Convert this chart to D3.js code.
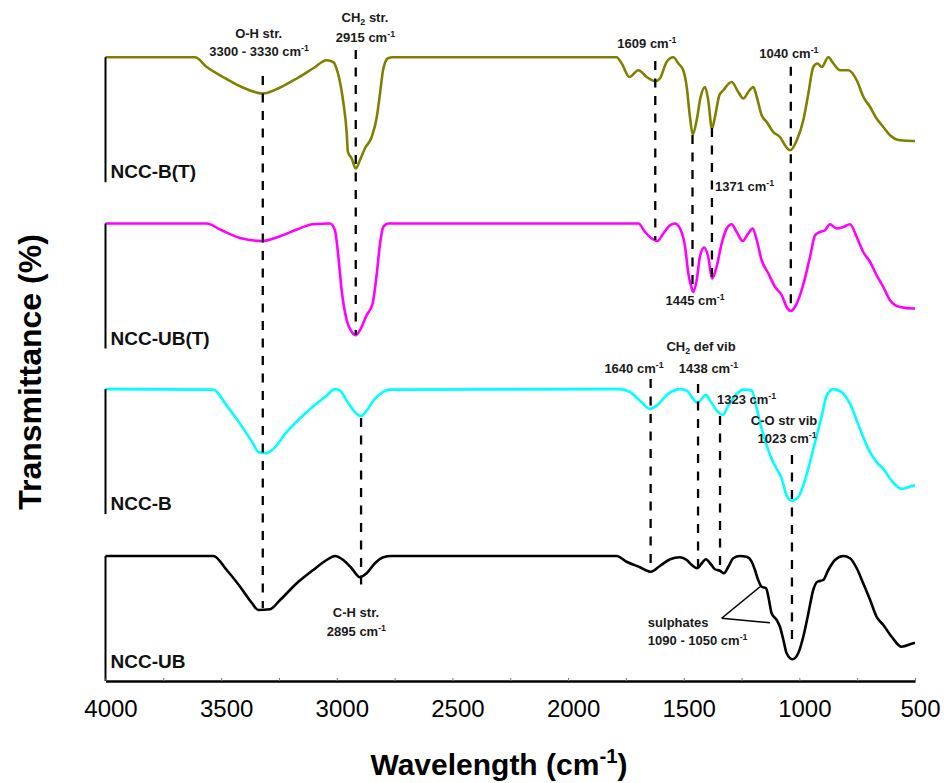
<!DOCTYPE html>
<html>
<head>
<meta charset="utf-8">
<script src="https://cdn.jsdelivr.net/npm/d3@7"></script>
<style>
  html, body { margin: 0; padding: 0; background: #fff; }
  svg { display: block; font-family: Arial, "Liberation Sans", sans-serif; }
</style>
</head>
<body>
<svg id="chart" width="944" height="783"></svg>
<script>

// samples, top to bottom
const sampleNames = ['NCC-B(T)', 'NCC-UB(T)', 'NCC-B', 'NCC-UB'];
const sampleColors = ['#808000', '#ff00ff', '#00ffff', '#000000'];
const sampleOffsets = [399, 266, 133.5, 0];

// [wavenumber (cm-1), transmittance (%)]
const spectrumNccBT = [
  [4000, 100], [3613, 100], [3562, 92.2], [3492, 84.2], [3418, 76.8], [3320, 71.0], [3245, 75.8],
  [3173, 83.0], [3103, 91.0], [3044, 97.6], [3016, 96.2], [2995, 87.2], [2973, 65.6], [2957, 39.2],
  [2952, 24.2], [2936, 19.2], [2918, 11.0], [2900, 17.6], [2878, 27.2], [2849, 36.2], [2827, 52.2],
  [2813, 71.2], [2800, 89.6], [2779, 99.2], [2757, 100], [1790, 100], [1768, 95], [1735, 84.2],
  [1696, 89.6], [1660, 84.2], [1623, 80.8], [1603, 83], [1574, 96.2], [1545, 100], [1523, 95],
  [1502, 89.6], [1487, 76.2], [1473, 52.2], [1461, 38.2], [1444, 49.6], [1427, 68.2], [1408, 76.2],
  [1394, 65.6], [1378, 43], [1365, 52.2], [1346, 69.6], [1329, 73.6], [1293, 80.2], [1264, 72.2],
  [1242, 67], [1221, 72.2], [1199, 76.2], [1184, 68.2], [1163, 53.6], [1141, 48.2], [1113, 40.2],
  [1084, 36.2], [1062, 29.6], [1040, 25.6], [1011, 33.6], [983, 49.6], [961, 71], [940, 92.2],
  [922, 95], [903, 92.2], [875, 100], [853, 95], [824, 89.6], [788, 89.6], [752, 81.6], [723, 68.2],
  [694, 60.2], [666, 51], [637, 44.2], [608, 37.6], [565, 33.6], [507, 33], [500, 33]
];

const spectrumNccUBT = [
  [4000, 100], [3562, 100], [3505, 95.2], [3418, 88.4], [3325, 86], [3245, 89.8], [3173, 95.2],
  [3102, 99.4], [3029, 100], [3008, 94.6], [2993, 73.2], [2979, 46.6], [2957, 22.6], [2935, 13.2],
  [2918, 10.6], [2900, 14.6], [2871, 26.6], [2845, 36], [2827, 60], [2813, 84], [2799, 97.2],
  [2777, 100], [1696, 100], [1667, 93.2], [1638, 88], [1614, 86], [1588, 92], [1559, 98.6],
  [1538, 100], [1516, 96], [1494, 81.2], [1480, 60], [1465, 48], [1459, 45.2], [1444, 54.6],
  [1430, 73.2], [1412, 80.8], [1394, 73.2], [1377, 56], [1358, 65.2], [1336, 84], [1314, 96],
  [1293, 99.4], [1271, 93.2], [1245, 86], [1221, 92], [1202, 96], [1184, 86.6], [1163, 70.6],
  [1134, 60], [1105, 49.2], [1076, 42.6], [1055, 33.2], [1037, 30], [1015, 34.6], [986, 49.2],
  [954, 73.2], [932, 90.6], [911, 93.2], [889, 94.6], [868, 99.4], [839, 96], [810, 97.2],
  [781, 99.4], [752, 89.2], [724, 77.2], [694, 69.2], [666, 58.6], [637, 49.2], [608, 38.6],
  [565, 33.2], [507, 32], [500, 32]
];

const spectrumNccB = [
  [4000, 100], [3534, 99.6], [3476, 86.8], [3418, 72.2], [3361, 56.2], [3339, 49.6], [3303, 48.8],
  [3274, 52.2], [3217, 65.6], [3130, 81.6], [3044, 94.8], [3008, 100], [2986, 98.8], [2957, 90.8],
  [2921, 81.6], [2895, 78.4], [2871, 82.8], [2842, 90.8], [2806, 97], [2770, 99.6], [1775, 100],
  [1732, 97.6], [1689, 90.8], [1646, 84.2], [1617, 86.8], [1567, 96.2], [1516, 100], [1487, 98.8],
  [1459, 92.2], [1441, 89], [1422, 92.2], [1404, 95.4], [1386, 90.8], [1357, 82.8], [1331, 79.4],
  [1307, 86.8], [1271, 96.2], [1242, 99.6], [1206, 98.8], [1184, 84.2], [1163, 68.2], [1141, 54.8],
  [1120, 44.2], [1098, 36.2], [1076, 28.2], [1055, 14.8], [1033, 10.8], [1005, 13.6], [983, 22.8],
  [954, 41.6], [925, 62.8], [903, 78.8], [882, 94.8], [853, 100], [817, 97.6], [781, 88.2],
  [738, 68.2], [702, 52.2], [666, 41.6], [637, 36.2], [601, 26.8], [558, 20.2], [507, 22.8], [500, 23]
];

const spectrumNccUB = [
  [4000, 100], [3534, 100], [3476, 88.8], [3418, 75.4], [3368, 62.6], [3339, 56.8], [3289, 57.4],
  [3245, 64.8], [3173, 78.2], [3102, 88.8], [3044, 96.8], [3008, 100], [2972, 96.8], [2936, 90.2],
  [2900, 83], [2871, 86.2], [2835, 94.2], [2799, 99], [2763, 100], [1790, 100], [1747, 95.4],
  [1689, 91], [1643, 87.4], [1603, 92], [1559, 97.4], [1516, 99], [1487, 96.8], [1465, 92.8],
  [1441, 90.2], [1422, 94.2], [1404, 97.4], [1386, 94.2], [1365, 89.4], [1343, 88.2], [1326, 86.2],
  [1307, 91.4], [1286, 98.2], [1257, 100], [1228, 99.4], [1206, 95.4], [1192, 88.8], [1178, 80.8],
  [1163, 75.4], [1144, 74.2], [1134, 67.4], [1120, 54.2], [1098, 48.8], [1084, 43.4], [1069, 32.8],
  [1055, 22.2], [1030, 17.4], [1005, 22.2], [983, 35.4], [961, 54.2], [940, 72.8], [922, 79.4],
  [897, 80.8], [875, 88.8], [846, 96.8], [810, 100], [781, 98.2], [752, 90.2], [724, 78.2],
  [694, 64.8], [666, 51.4], [637, 44.8], [601, 35.4], [558, 27.4], [507, 30.2], [500, 30.5]
];

const spectra = [spectrumNccBT, spectrumNccUBT, spectrumNccB, spectrumNccUB];

const xTickLabels = [4000, 3500, 3000, 2500, 2000, 1500, 1000, 500];
const xMinorTicks = [4000, 3750, 3500, 3250, 3000, 2750, 2500, 2250, 2000, 1750, 1500, 1250, 1000, 750, 500];

// band markers: wavenumber, stacked value at top and bottom of the dashed line
const bandLines = [
  [3320, 484, 58.4], [2918, 504.8, 276.8], [2895, 210.4, 70.4], [1623, 496, 352.8],
  [1462, 436.8, 312.8], [1378, 442.4, 322.4], [1037, 491.4, 300.8], [1643, 241.6, 87.2],
  [1438, 237.6, 91.2], [1343, 212, 91.2], [1032, 180.8, 28.8]
];

// band labels: text, wavenumber, stacked value of baseline, anchor
const bandLabels = [
  ['O-H str.', 3338, 514.4, 'middle'],
  ['3300 - 3330 cm{^-1}', 3336, 500, 'middle'],
  ['CH{_2} str.', 2878, 527.2, 'middle'],
  ['2915 cm{^-1}', 2876, 511.4, 'middle'],
  ['1609 cm{^-1}', 1659, 506.4, 'middle'],
  ['1040 cm{^-1}', 1045, 498.6, 'middle'],
  ['1371 cm{^-1}', 1365, 392.2, 'start'],
  ['1445 cm{^-1}', 1451, 300.8, 'middle'],
  ['CH{_2} def vib', 1425, 264.2, 'middle'],
  ['1640 cm{^-1}', 1715, 246.6, 'middle'],
  ['1438 cm{^-1}', 1393, 246.6, 'middle'],
  ['1323 cm{^-1}', 1228, 221.6, 'middle'],
  ['C-O str vib', 1066, 204.8, 'middle'],
  ['1023 cm{^-1}', 1053, 190.2, 'middle'],
  ['C-H str.', 2917, 51, 'middle'],
  ['2895 cm{^-1}', 2915, 36, 'middle'],
  ['sulphates', 1655, 43.4, 'start'],
  ['1090 - 1050 cm{^-1}', 1655, 28.8, 'start']
];

// leader lines for the sulphate shoulders
const sulphateLeaders = [
  [[1336, 50.2], [1170, 75.4]],
  [[1336, 50.2], [1127, 46.6]]
];


/**
 * Write text with {^sup} and {_sub} parts as tspans.
 * @param {d3.Selection} sel
 * @param {String} str
 * @param {Number} size
 */
function richText(sel, str, size) {

  const re = /\{([\^_])([^}]*)\}/g;
  let last = 0, shift = 0, m;

  const add = (t, s, fs) => {
    sel.append('tspan')
      .attr('dy', s - shift)
      .style('font-size', fs + 'px')
      .text(t);
    shift = s;
  };

  while ((m = re.exec(str))) {
    if (m.index > last) add(str.slice(last, m.index), 0, size);
    add(m[2], m[1] === '^' ? -0.4 * size : 0.25 * size, size * 0.68);
    last = re.lastIndex;
  }
  if (last < str.length) add(str.slice(last), 0, size);
}


/**
 * Stacked FTIR spectra.
 * @class
 */
class StackedSpectra {


  /**
   * @constructor
   * @param {SVGElement} svg
   */
  constructor(svg) {

    this._svg = d3.select(svg);
    this._x = d3.scaleLinear().domain([4000, 500]).range([105.5, 915]);
    this._y = d3.scaleLinear().domain([0, 540]).range([681, 6]);
  }


  /**
   * Draw the curves and the panel bars.
   * @returns {StackedSpectra}
   */
  renderSpectra() {

    const x = this._x, y = this._y;

    spectra.forEach((data, i) => {

      const off = sampleOffsets[i];

      const line = d3.line()
        .x(d => x(d[0]))
        .y(d => y(d[1] + off))
        .curve(d3.curveMonotoneX);

      this._svg.append('path')
        .datum(data)
        .attr('d', line)
        .attr('fill', 'none')
        .attr('stroke', sampleColors[i])
        .attr('stroke-width', 2.6)
        .attr('stroke-linejoin', 'round');

      // panel bar from 0 to 100 %
      this._svg.append('line')
        .attr('x1', x(4000)).attr('x2', x(4000))
        .attr('y1', y(off + 100)).attr('y2', y(off))
        .attr('stroke', '#000')
        .attr('stroke-width', 2);

      this._svg.append('text')
        .attr('x', x(4000) + 5)
        .attr('y', y(off + (i === 3 ? 10.4 : 3.2)))
        .style('font-size', '19px')
        .style('font-weight', 'bold')
        .attr('fill', '#111')
        .text(sampleNames[i]);
    });

    return this;
  }


  /**
   * Draw band lines and labels.
   * @returns {StackedSpectra}
   */
  renderBands() {

    const x = this._x, y = this._y;

    this._svg.append('g')
      .selectAll('line')
      .data(bandLines)
      .enter()
      .append('line')
      .attr('x1', d => x(d[0])).attr('x2', d => x(d[0]))
      .attr('y1', d => y(d[1])).attr('y2', d => y(d[2]))
      .attr('stroke', '#000')
      .attr('stroke-width', 2.3)
      .attr('stroke-dasharray', '9,8.5');

    this._svg.append('g')
      .selectAll('line')
      .data(sulphateLeaders)
      .enter()
      .append('line')
      .attr('x1', d => x(d[0][0])).attr('y1', d => y(d[0][1]))
      .attr('x2', d => x(d[1][0])).attr('y2', d => y(d[1][1]))
      .attr('stroke', '#000')
      .attr('stroke-width', 1.6);

    bandLabels.forEach(d => {
      const t = this._svg.append('text')
        .attr('x', x(d[1]))
        .attr('y', y(d[2]))
        .attr('text-anchor', d[3])
        .style('font-weight', 'bold')
        .attr('fill', '#1a1a1a');
      richText(t, d[0], 13);
    });

    return this;
  }


  /**
   * Draw the x axis and the titles.
   * @returns {StackedSpectra}
   */
  renderAxes() {

    const x = this._x, y = this._y;

    const axis = d3.axisBottom(x)
      .tickValues(xMinorTicks)
      .tickSizeInner(-3)
      .tickSizeOuter(0)
      .tickPadding(19)
      .tickFormat(d => xTickLabels.includes(d) ? d : '');

    const g = this._svg.append('g')
      .attr('transform', `translate(0,${y(0)})`)
      .call(axis);

    g.select('.domain').attr('stroke', '#000').attr('stroke-width', 2.6);
    g.selectAll('.tick line').attr('stroke', '#777').attr('stroke-width', 1);
    g.selectAll('.tick text')
      .attr('dx', 5)
      .style('font-family', 'Arial, "Liberation Sans", sans-serif')
      .style('font-size', '24px')
      .attr('fill', '#000');

    const xt = this._svg.append('text')
      .attr('x', 499)
      .attr('y', 775)
      .attr('text-anchor', 'middle')
      .style('font-weight', 'bold');
    richText(xt, 'Wavelength (cm{^-1})', 30);

    this._svg.append('text')
      .attr('transform', 'translate(41,372) rotate(-90)')
      .attr('text-anchor', 'middle')
      .style('font-weight', 'bold')
      .style('font-size', '32px')
      .text('Transmittance (%)');

    return this;
  }
}


new StackedSpectra(document.getElementById('chart'))
  .renderSpectra()
  .renderBands()
  .renderAxes();

</script>
</body>
</html>
